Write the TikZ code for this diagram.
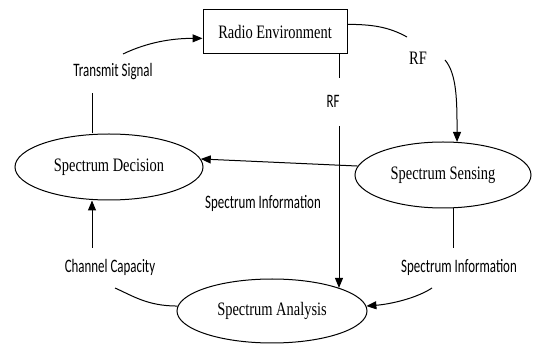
\documentclass[tikz,border=0pt]{standalone}
\usepackage{fontspec}
\setmainfont{Liberation Serif}[FakeStretch=0.76]
\newfontfamily\lblfont{Carlito}[FakeStretch=0.68]
\usetikzlibrary{shapes.geometric,arrows.meta}

\tikzset{every picture/.style={line width=1pt}}
\tikzset{
  blk/.style={font=\fontsize{19}{21}\selectfont},
  lbl/.style={font=\lblfont\fontsize{19}{21}\selectfont, inner sep=0.75pt},
  proc/.style={blk, draw, ellipse, inner sep=0pt},
}

\begin{document}
\begin{tikzpicture}[x=1pt,y=1pt,yscale=-1,xscale=1, >={Triangle[length=10pt,width=8pt]}]
\useasboundingbox (0,0) rectangle (533,344);

%Shape: Rectangle
\node [blk, draw, minimum width=144, minimum height=44] (env) at (275,32) {Radio Environment};
%Shape: Ellipse
\node [proc, minimum width=188, minimum height=66] (dec) at (109,167) {Spectrum Decision};
%Shape: Ellipse
\node [proc, minimum width=176, minimum height=66] (sen) at (443,175) {Spectrum Sensing};
%Shape: Ellipse
\node [proc, minimum width=190, minimum height=64] (ana) at (272,311) {Spectrum Analysis};

% Text Node
\node [lbl] (sig) at (113,72) {Transmit Signal};
% Text Node
\node [blk] (rfa) at (418,58) {RF};
% Text Node
\node [lbl] (rfb) at (333,101) {RF};
% Text Node
\node [lbl] (infoa) at (263,203) {Spectrum Information};
% Text Node
\node [lbl] (infob) at (459,267) {Spectrum Information};
% Text Node
\node [lbl] (cap) at (110,267) {Channel Capacity};

%loose ends of the broken lines
\coordinate (sig-in) at (92,93);
\coordinate (sig-out) at (123,54);
\coordinate (rfa-in) at (407,37);
\coordinate (rfa-out) at (445,60);
\coordinate (rfb-in) at (339,78);
\coordinate (rfb-out) at (339,126);
\coordinate (infob-in) at (453,248);
\coordinate (infob-out) at (432,288);
\coordinate (cap-in) at (115,288);
\coordinate (cap-out) at (92,248);

%Straight Lines
\draw (dec.north -| sig-in) -- (sig-in);
%Curve Lines
\draw [->] (sig-out) .. controls +(25,-12) and +(-30,0) .. (env.185);
%Curve Lines
\draw (env.6) .. controls +(25,0) and +(-18,-10) .. (rfa-in);
\draw [->] (rfa-out) .. controls +(12,14) and +(0,-40) .. (sen.67);
%Straight Lines
\draw (rfb-in |- env.south) -- (rfb-in);
\draw [->] (rfb-out) -- (rfb-out |- ana.19);
%Straight Lines
\draw [->] (sen.174) -- (dec.5);
%Straight Lines
\draw (infob-in |- sen.south) -- (infob-in);
%Curve Lines
\draw [->] (infob-out) .. controls +(-15,10) and +(25,-2) .. (ana.3);
%Curve Lines
\draw (ana.177) .. controls +(-30,0) and +(18,8) .. (cap-in);
%Straight Lines
\draw [->] (cap-out) -- (cap-out |- dec.south);

\end{tikzpicture}
\end{document}
